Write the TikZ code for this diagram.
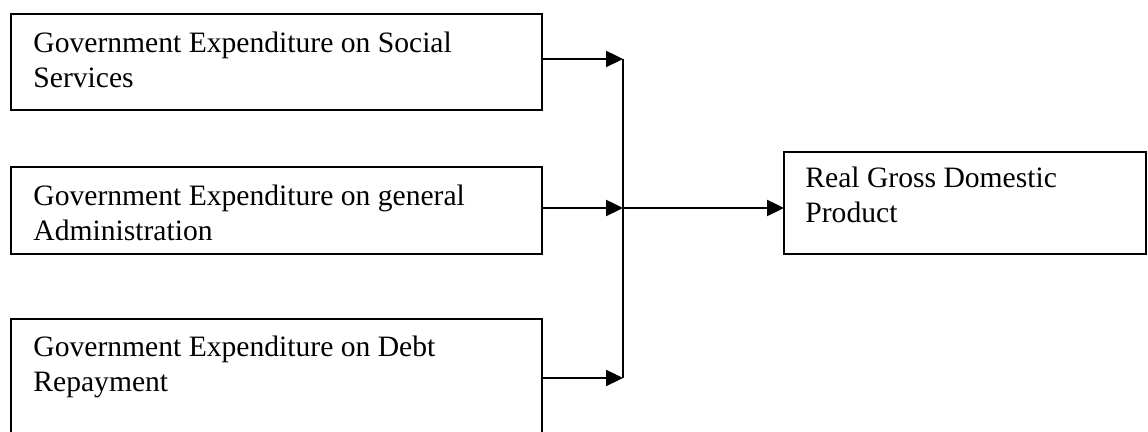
\documentclass[tikz,border=0pt]{standalone}
\usepackage{fontspec}
\setmainfont{Liberation Serif}
\usetikzlibrary{calc}
\usetikzlibrary{arrows.meta}
\tikzset{
    % boxes of the scheme
    boxnode/.style={
        draw,
        line width=1pt,
        inner sep=0pt,
        outer sep=0pt
    },
    % text inside the boxes
    boxtext/.style={
        inner sep=0pt,
        align=left,
        anchor=base west,
        font=\fontsize{14.8pt}{17.5pt}\selectfont
    },
    flowarrow/.style={
        line width=1.2pt,
        -{Triangle[length=8.5pt, width=8pt]}
    }
}
\begin{document}
\begin{tikzpicture}[x=0.5pt,y=-0.5pt]
   \useasboundingbox (0,0) rectangle (1148,432);
   \clip (0,0) rectangle (1148,432);

   % left boxes
   \node[boxnode, minimum width=265.5pt, minimum height=48pt] (soc) at (276.5,62) {};
   \node[boxnode, minimum width=265.5pt, minimum height=43.5pt] (adm) at (276.5,210.5) {};
   \node[boxnode, minimum width=265.5pt, minimum height=65.5pt] (debt) at (276.5,384.5) {};
   % right box
   \node[boxnode, minimum width=181pt, minimum height=51pt] (gdp) at (965,203) {};

   % texts (anchored at the baseline of the last line)
   \node[boxtext] (soct) at ($(soc.north west)+(22,74)$) {Government Expenditure on Social\\Services};
   \node[boxtext] (admt) at ($(adm.north west)+(22,74)$) {Government Expenditure on general\\Administration};
   \node[boxtext] (debtt) at ($(debt.north west)+(22,73)$) {Government Expenditure on Debt\\Repayment};
   \node[boxtext] (gdpt) at ($(gdp.north west)+(21,71)$) {Real Gross Domestic\\Product};

   % collecting line
   \coordinate (top) at (623,59);
   \coordinate (j) at (623,208);
   \coordinate (bot) at (623,378);
   \draw[line width=1pt] (top) -- (bot);

   % arrows
   \draw[flowarrow] (soc.east |- top) -- (top);
   \draw[flowarrow] (adm.east |- j) -- (j);
   \draw[flowarrow] (debt.east |- bot) -- (bot);
   \draw[flowarrow] (j) -- (j -| gdp.west);
\end{tikzpicture}
\end{document}
